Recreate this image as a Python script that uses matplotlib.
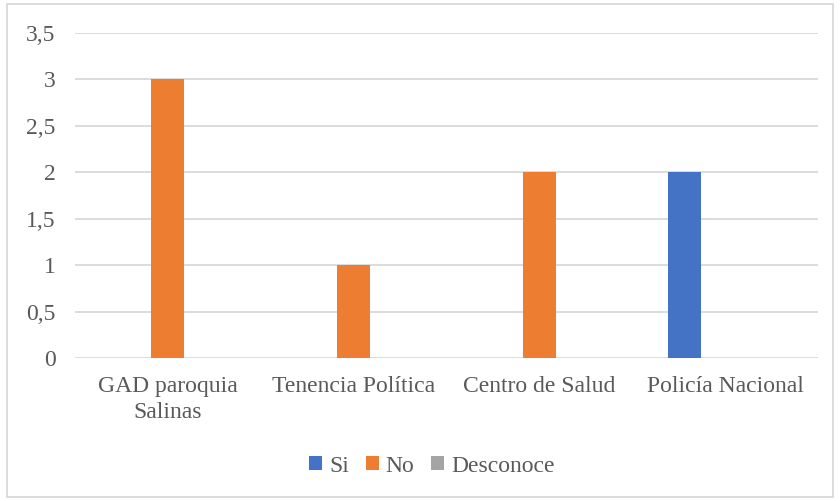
import matplotlib.pyplot as plt
import numpy as np
from matplotlib.patches import Rectangle

categories = ["GAD paroquia\nSalinas", "Tenencia Política", "Centro de Salud", "Policía Nacional"]
series_names = ["Si", "No", "Desconoce"]
si = [0, 0, 0, 2]
no = [3, 1, 2, 0]
desconoce = [0, 0, 0, 0]
colors = ["#4472C4", "#ED7D31", "#A5A5A5"]
yticks = [0, 0.5, 1, 1.5, 2, 2.5, 3, 3.5]
ytick_labels = ["0", "0,5", "1", "1,5", "2", "2,5", "3", "3,5"]

plt.rcParams['font.family'] = 'serif'
plt.rcParams['font.serif'] = ['Liberation Serif', 'DejaVu Serif']
text_color = "#595959"

fig = plt.figure(figsize=(8.4, 5.01), dpi=100)
ax = fig.add_axes([75 / 840, 1 - 358 / 501, (818 - 75) / 840, (358 - 33) / 501])

x = np.arange(len(categories))
width = 0.178
offset = 0.218
for i, (vals, name) in enumerate(zip([si, no, desconoce], series_names)):
    ax.bar(x + (i - 1) * offset, vals, width, color=colors[i], label=name, zorder=3)

ax.set_xlim(-0.5, len(categories) - 0.5)
ax.set_ylim(0, 3.5)
ax.set_yticks(yticks)
ax.set_yticklabels(ytick_labels)
ax.set_xticks(x)
ax.set_xticklabels(categories, linespacing=1.3)
ax.grid(axis='y', color="#D9D9D9", linewidth=1.3, zorder=0)
for s in ax.spines.values():
    s.set_visible(False)
ax.tick_params(length=0, labelsize=17, colors=text_color, pad=13)
ax.tick_params(axis='y', pad=14)

leg = fig.legend(loc='center', bbox_to_anchor=(432 / 840, 1 - 466 / 501), ncol=3,
                 frameon=False, fontsize=17, handlelength=0.55, handleheight=0.55,
                 handletextpad=0.3, columnspacing=0.7, labelcolor=text_color)

fig.patches.append(Rectangle((7 / 840, 4 / 501), 826 / 840, 493 / 501, transform=fig.transFigure,
                             fill=False, edgecolor="#D9D9D9", linewidth=1.3))

fig.savefig("out.png", dpi=100)
